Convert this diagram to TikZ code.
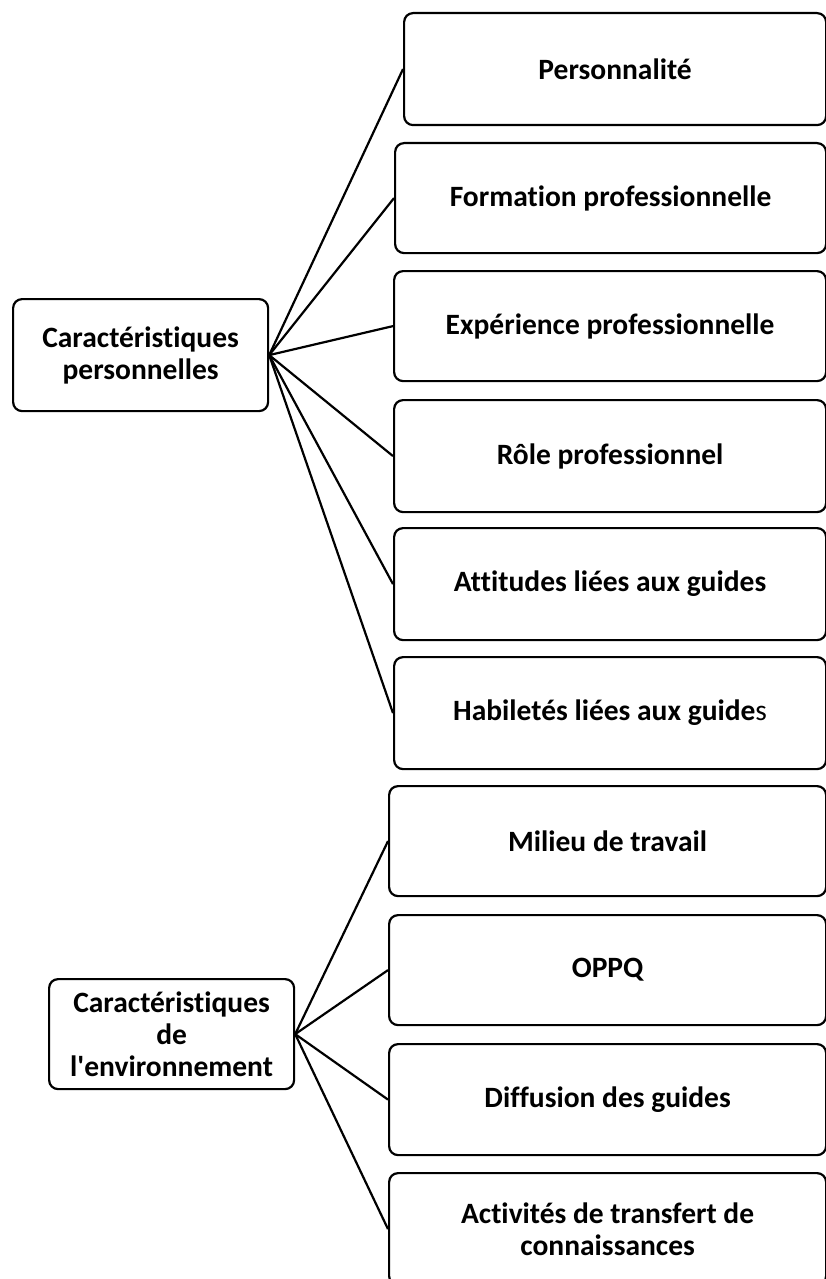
\documentclass[tikz,border=0pt]{standalone}
\usepackage{fontspec}
\setmainfont{Carlito}[Ligatures={TeXOff,CommonOff}]
\begin{document}
\begin{tikzpicture}[x=1pt,y=-1pt,
  box/.style={draw,line width=2.2pt,rounded corners=9pt,align=center,anchor=north west,
   inner sep=0pt,font=\fontsize{29.5}{32}\selectfont\bfseries},
  link/.style={line width=2.2pt}]
  \useasboundingbox (0,0) rectangle (826,1279);
  % left side
  \node [box,minimum width=255,minimum height=112] (perso) at (12,298)
   {Caractéristiques\\personnelles};
  \node [box,minimum width=245,minimum height=110] (envir) at (48,978)
   {Caractéristiques\\de\\l'environnement};
  % personal characteristics
  \node [box,minimum width=422,minimum height=112] (personnalite) at (403,12) {Personnalité};
  \node [box,minimum width=431,minimum height=110] (formation) at (394,142) {Formation professionnelle};
  \node [box,minimum width=432,minimum height=110] (experience) at (393,270) {Expérience professionnelle};
  \node [box,minimum width=432,minimum height=112] (role) at (393,399) {Rôle professionnel};
  \node [box,minimum width=432,minimum height=112] (attitudes) at (393,527) {Attitudes liées aux guides};
  \node [box,minimum width=432,minimum height=112] (habiletes) at (393,656)
   {Habiletés liées aux guide{\mdseries s}};
  % environment
  \node [box,minimum width=437,minimum height=110] (milieu) at (388,785) {Milieu de travail};
  \node [box,minimum width=437,minimum height=110] (oppq) at (388,914) {OPPQ};
  \node [box,minimum width=437,minimum height=111] (diffusion) at (388,1043) {Diffusion des guides};
  \node [box,minimum width=437,minimum height=112] (transfert) at (388,1172)
   {Activités de transfert de\\connaissances};
  \foreach \b in {personnalite,formation,experience,role,attitudes,habiletes}
   \draw [link] (perso.east) -- (\b.west);
  \foreach \b in {milieu,oppq,diffusion,transfert}
   \draw [link] (envir.east) -- (\b.west);
\end{tikzpicture}
\end{document}
